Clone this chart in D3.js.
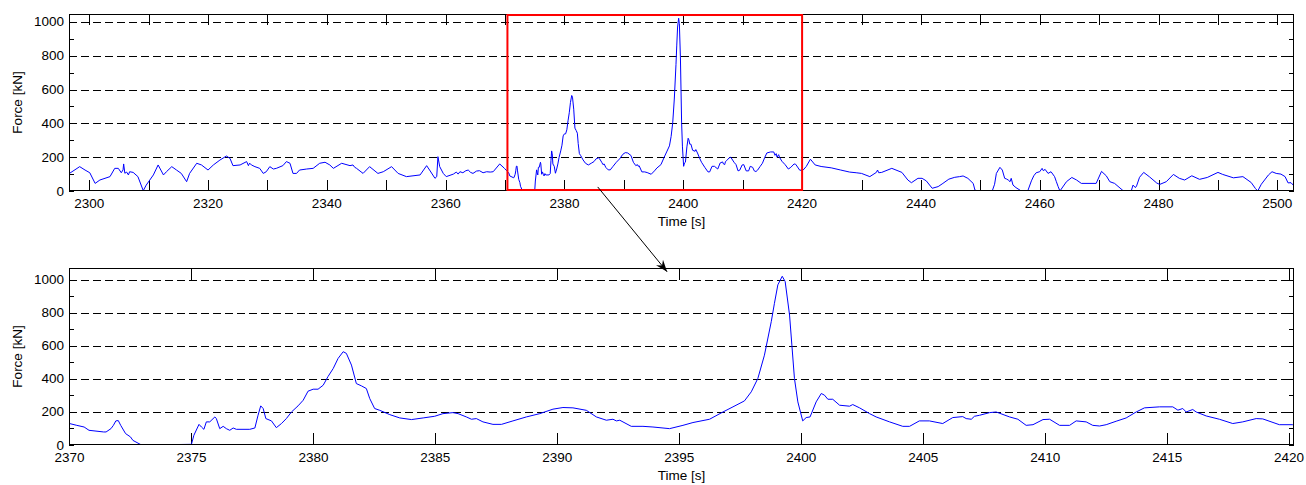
<!DOCTYPE html>
<html><head><meta charset="utf-8">
<script src="https://cdn.jsdelivr.net/npm/d3@7"></script>
<style>
html,body{margin:0;padding:0;background:#fff;}
svg{display:block;font-family:"Liberation Sans",Arial,Helvetica,sans-serif;}
</style></head>
<body>
<svg id="chart" width="1306" height="485"></svg>
<script>
// ---------- data ----------
const time = [
2296.5,2298.4,2299.3,2300.1,2301.0,2301.8,2303.5,2304.3,2304.9,2305.4,2305.7,2305.8,2306.0,2306.3,2306.6,2306.8,2307.4,2308.2,2309.1,2309.6,
2310.8,2311.6,2312.5,2313.0,2313.9,2314.7,2315.5,2316.4,2316.9,2318.1,2318.9,2320.0,2320.9,2322.0,2323.1,2323.7,2324.2,2325.4,2326.5,2326.8,
2327.0,2327.3,2327.9,2328.7,2329.3,2329.8,2330.4,2331.0,2331.5,2332.6,2333.2,2333.8,2334.3,2334.9,2335.4,2336.6,2337.7,2338.8,2339.7,2340.5,
2341.1,2342.5,2343.9,2344.4,2344.7,2345.0,2346.1,2347.2,2348.6,2349.5,2350.9,2352.0,2353.4,2355.7,2356.8,2357.3,2358.2,2358.5,2358.7,2359.0,
2359.6,2360.1,2361.3,2361.8,2362.1,2362.4,2362.9,2363.4,2363.8,2364.2,2364.6,2365.2,2365.7,2366.3,2366.9,2367.5,2368.0,2369.1,2369.9,
2370.0,2370.3,2370.6,2370.8,2371.4,2371.5,2371.7,2371.8,2371.9,2372.0,2372.1,2372.3,2372.5,2372.6,2372.9,2373.0,2375.0,2375.1,2375.31,2375.41,
2375.51,2375.61,2375.75,2375.96,2376.02,2376.16,2376.30,2376.43,2376.57,2376.71,2376.84,2377.39,2377.60,2377.73,2377.84,2377.94,2378.05,2378.28,2378.48,2378.69,
2378.89,2379.10,2379.37,2379.58,2379.78,2379.99,2380.19,2380.40,2380.60,2380.81,2381.01,2381.22,2381.35,2381.56,2381.76,2381.97,2382.17,2382.31,2382.51,2382.72,
2383.13,2383.54,2384.02,2384.50,2384.97,2385.31,2385.72,2385.93,2386.27,2386.48,2386.68,2386.95,2387.36,2387.71,2388.18,2388.73,2389.28,2389.82,2390.23,2390.64,
2391.19,2391.60,2392.01,2392.28,2392.42,2392.56,2393.03,2393.51,2393.92,2394.60,2395.15,2395.56,2396.24,2396.79,2397.20,2397.67,2397.95,2398.22,2398.49,2398.77,
2398.90,2399.04,2399.22,2399.34,2399.52,2399.72,2399.86,2400.06,2400.20,2400.36,2400.61,2400.82,2400.95,2401.09,2401.29,2401.57,2401.98,2402.11,2402.39,2402.80,
2403.07,2403.62,2404.16,2404.44,2404.84,2405.25,2405.80,2406.21,2406.62,2406.76,2406.97,2407.10,2407.31,2407.72,2407.99,2408.54,2408.88,2409.22,2409.50,2409.91,
2410.18,2410.59,2411.00,2411.27,2411.68,2411.95,2412.23,2412.50,2412.91,2413.32,2413.73,2414.07,2414.69,2415.23,2415.44,2415.64,2415.78,2416.05,2416.19,2416.60,
2417.14,2417.69,2418.10,2418.65,2418.92,2419.60,2420.15,
2420.7,2421.4,2422.2,2423.2,2424.9,2426.5,2428.0,2429.1,2430.0,2431.4,2432.5,2432.7,2432.9,2433.4,2435.1,2436.8,2437.8,2438.4,2439.5,2440.2,
2440.9,2441.9,2442.9,2443.7,2444.7,2445.7,2446.5,2447.1,2447.9,2448.8,2449.1,2449.6,2452.0,2452.4,2452.7,2453.3,2453.7,2454.1,2454.4,2454.7,
2455.0,2455.2,2455.5,2456.0,2456.9,2458.0,2458.6,2459.0,2459.4,2460.0,2460.4,2460.6,2460.9,2461.4,2461.9,2462.5,2462.8,2463.1,2463.4,2464.5,
2465.4,2466.2,2467.0,2469.5,2470.4,2471.2,2471.8,2472.6,2474.1,2475.4,2475.7,2476.1,2476.3,2476.8,2477.5,2478.5,2479.7,2480.2,2481.3,2482.5,
2483.5,2484.4,2485.6,2486.9,2488.2,2490.0,2490.8,2492.6,2494.2,2495.6,2496.3,2496.7,2497.3,2498.5,2499.1,2499.8,2500.6,2501.3,2501.8,2502.3,2502.8
];
const force = [
100,144,124,108,45,65,85,134,134,108,125,160,105,112,95,114,110,85,2,35,
95,154,95,114,144,124,104,55,104,164,154,124,154,183,207,193,150,154,174,150,
165,154,144,134,104,114,144,130,134,150,174,164,104,104,124,130,134,164,170,154,
134,164,150,154,140,134,104,144,104,114,144,104,85,95,150,124,75,85,203,144,
104,85,100,112,100,114,108,120,124,110,104,118,120,108,114,112,114,160,134,
130,119,109,89,79,79,99,119,146,148,119,69,49,28,4,0,4,59,125,109,
95,140,140,170,160,99,113,99,89,103,95,95,103,180,237,221,160,146,105,130,
160,200,237,271,326,338,338,362,415,463,524,565,555,484,372,358,342,281,221,210,
184,164,154,164,174,190,196,190,170,156,160,140,125,125,146,170,190,217,227,225,
210,170,150,156,146,150,113,113,109,99,119,136,156,200,231,267,322,403,544,747,
858,970,1022,990,787,403,261,146,166,170,261,312,302,277,277,241,235,245,225,190,
170,140,113,113,146,146,130,166,172,160,156,174,180,196,200,170,156,119,123,154,
156,119,119,146,140,119,115,123,144,164,200,225,231,231,211,221,200,215,200,176,
156,130,140,160,158,123,123,
145,188,154,145,137,124,112,108,104,85,110,124,108,110,134,110,65,49,75,75,
60,16,26,45,70,81,85,89,75,45,5,0,0,40,104,140,124,75,71,65,
55,75,35,20,0,2,60,90,108,114,134,120,128,104,114,85,55,26,0,55,
80,65,45,45,116,90,55,45,0,0,35,20,30,81,110,83,47,39,55,98,
75,65,90,69,80,110,98,78,85,50,15,0,40,95,114,104,100,85,48,49,30
];
const topXTicks = d3.range(2300, 2501, 10);
const topXLabels = d3.range(2300, 2501, 20);
const botXTicks = d3.range(2370, 2421, 5);
const yMinorTicks = d3.range(0, 1001, 100);
const yGrid = [200, 400, 600, 800, 1000];
const yLabels = [0, 200, 400, 600, 800, 1000];
const topXDomain = [2296.6, 2502.8];
const topYDomain = [0, 1047];
const botXDomain = [2369.98, 2420.2];
const botYDomain = [0, 1072];
const zoomBox = {t0: 2370.4, t1: 2420, f0: 6, f1: 1041};
const arrowFrom = {t: 2385.6, f: 24};    // top-axes coords
const arrowTo = {t: 2394.5, f: 1049};    // bottom-axes coords
const xLabel = "Time [s]";
const yLabel = "Force [kN]";

// ---------- layout ----------
const svg = d3.select("#chart");
const L = 69, R = 1294;
const panels = [
  {top: 14, bottom: 191, xd: topXDomain, yd: topYDomain, xt: topXTicks, xl: topXLabels, xtLen: 11, id: "a"},
  {top: 268, bottom: 445, xd: botXDomain, yd: botYDomain, xt: botXTicks, xl: botXTicks, xtLen: 12, id: "b"}
];
const data = time.map((t, i) => ({t, f: force[i]}));
const fontSize = 13.5;

panels.forEach(p => {
  const x = d3.scaleLinear().domain(p.xd).range([L, R]);
  const y = d3.scaleLinear().domain(p.yd).range([p.bottom, p.top]);
  p.x = x; p.y = y;
  const g = svg.append("g");
  // clip
  svg.append("clipPath").attr("id", "clip" + p.id).append("rect")
    .attr("x", L).attr("y", p.top).attr("width", R - L).attr("height", p.bottom - p.top);
  // grid
  g.selectAll(".grid").data(yGrid).join("line")
    .attr("x1", L).attr("x2", R)
    .attr("y1", d => Math.round(y(d)) + 0.5).attr("y2", d => Math.round(y(d)) + 0.5)
    .attr("stroke", "#000").attr("stroke-width", 1).attr("stroke-dasharray", "8,4");
  // x ticks (bottom & top, inward)
  g.selectAll(".xtb").data(p.xt).join("line")
    .attr("x1", d => Math.round(x(d)) + 0.5).attr("x2", d => Math.round(x(d)) + 0.5)
    .attr("y1", p.bottom).attr("y2", p.bottom - p.xtLen).attr("stroke", "#000");
  g.selectAll(".xtt").data(p.xt).join("line")
    .attr("x1", d => Math.round(x(d)) + 0.5).attr("x2", d => Math.round(x(d)) + 0.5)
    .attr("y1", p.top).attr("y2", p.top + p.xtLen).attr("stroke", "#000");
  // y ticks (left & right, inward)
  g.selectAll(".ytl").data(yMinorTicks).join("line")
    .attr("x1", L).attr("x2", L + 5)
    .attr("y1", d => Math.round(y(d)) + 0.5).attr("y2", d => Math.round(y(d)) + 0.5).attr("stroke", "#000");
  g.selectAll(".ytr").data(yMinorTicks).join("line")
    .attr("x1", R).attr("x2", R - 5)
    .attr("y1", d => Math.round(y(d)) + 0.5).attr("y2", d => Math.round(y(d)) + 0.5).attr("stroke", "#000");
  // data line
  const line = d3.line().x(d => x(d.t)).y(d => y(d.f));
  g.append("path").datum(data).attr("d", line)
    .attr("fill", "none").attr("stroke", "#0000ff").attr("stroke-width", 1)
    .attr("stroke-linejoin", "round").attr("clip-path", `url(#clip${p.id})`);
  // box
  g.append("rect").attr("x", L + 0.5).attr("y", p.top + 0.5)
    .attr("width", R - L - 1).attr("height", p.bottom - p.top - 1)
    .attr("fill", "none").attr("stroke", "#000").attr("stroke-width", 1);
  // labels
  g.selectAll(".xlab").data(p.xl).join("text")
    .attr("x", d => x(d)).attr("y", p.bottom + 12)
    .attr("text-anchor", "middle").attr("dominant-baseline", "central")
    .attr("font-size", fontSize).attr("fill", "#000").text(d => d);
  g.selectAll(".ylab").data(yLabels).join("text")
    .attr("x", L - 5).attr("y", d => y(d))
    .attr("text-anchor", "end").attr("dominant-baseline", "central")
    .attr("font-size", fontSize).attr("fill", "#000").text(d => d);
  g.append("text").attr("x", (L + R) / 2).attr("y", p.bottom + 30.5)
    .attr("text-anchor", "middle").attr("dominant-baseline", "central")
    .attr("font-size", fontSize).attr("fill", "#000").text(xLabel);
  g.append("text").attr("transform", `translate(17.5,${(p.top + p.bottom) / 2}) rotate(-90)`)
    .attr("text-anchor", "middle").attr("dominant-baseline", "central")
    .attr("font-size", fontSize).attr("fill", "#000").text(yLabel);
});

// zoom box on top panel
const pa = panels[0], pb = panels[1];
svg.append("rect")
  .attr("x", pa.x(zoomBox.t0)).attr("y", pa.y(zoomBox.f1))
  .attr("width", pa.x(zoomBox.t1) - pa.x(zoomBox.t0))
  .attr("height", pa.y(zoomBox.f0) - pa.y(zoomBox.f1))
  .attr("fill", "none").attr("stroke", "#ff0000").attr("stroke-width", 2);

// arrow
const defs = svg.append("defs");
defs.append("marker").attr("id", "ah").attr("viewBox", "-12 -5 13 10")
  .attr("refX", 0).attr("refY", 0).attr("markerWidth", 13).attr("markerHeight", 10)
  .attr("markerUnits", "userSpaceOnUse").attr("orient", "auto")
  .append("path").attr("d", "M0,0 L-12,-4.5 L-8,0 L-12,4.5 Z").attr("fill", "#000");
svg.append("line")
  .attr("x1", pa.x(arrowFrom.t)).attr("y1", pa.y(arrowFrom.f))
  .attr("x2", pb.x(arrowTo.t)).attr("y2", pb.y(arrowTo.f))
  .attr("stroke", "#000").attr("stroke-width", 1).attr("marker-end", "url(#ah)");
</script>
</body></html>
